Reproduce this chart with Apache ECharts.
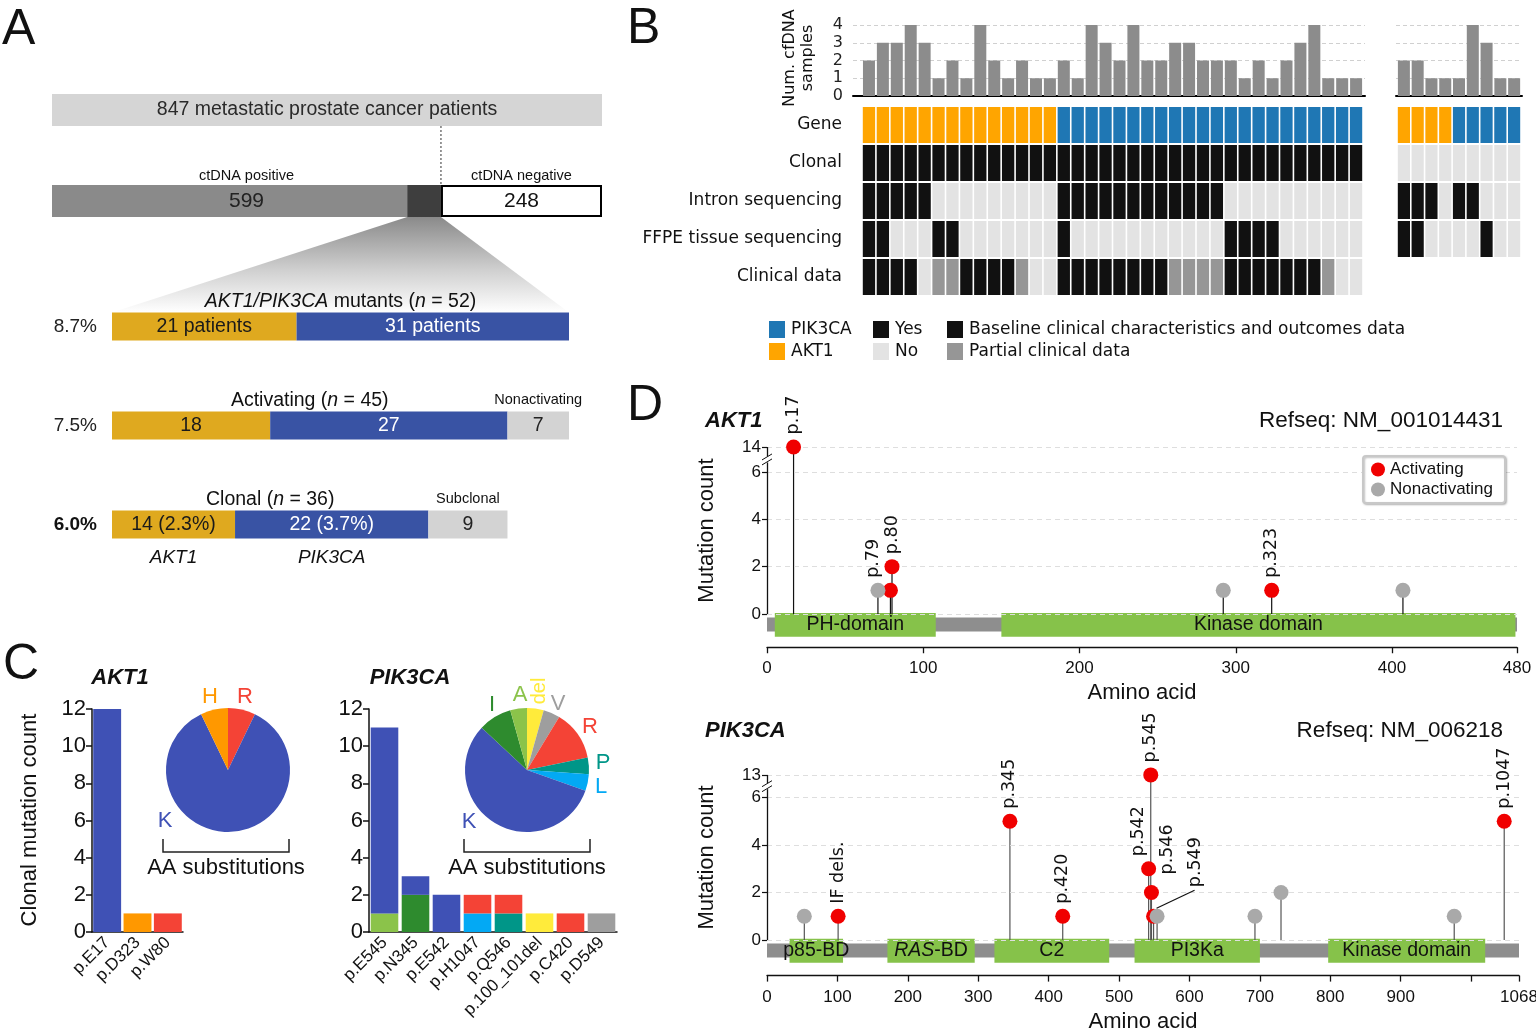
<!DOCTYPE html>
<html>
<head>
<meta charset="utf-8">
<title>AKT1 / PIK3CA figure</title>
<script src="https://cdn.jsdelivr.net/npm/echarts@6.0.0/dist/echarts.min.js"></script>
<style>
html,body{margin:0;padding:0;background:#fff;}
#chart{width:1536px;height:1028px;}
</style>
</head>
<body>
<div id="chart"></div>
<script>
// ===================== DATA =====================
// ---- Panel A ----
const aCohortLabel = ['847 metastatic prostate cancer patients'];
const aCohortTotal = [847];
const aCtdnaPositive = [599];
const aCtdnaNegative = [248];
const aMutantTotal = [52];
const aCtdnaTitles = ['ctDNA positive', 'ctDNA negative'];
const aRowLabels = ['8.7%', '7.5%', '6.0%'];
const aRowTitles = ['{i|AKT1/PIK3CA} mutants ({i|n} = 52)', 'Activating ({i|n} = 45)', 'Clonal ({i|n} = 36)'];
const aAkt1 = [21, 18, 14];
const aPik3ca = [31, 27, 22];
const aRest = [0, 7, 9];
const aRestTitles = ['', 'Nonactivating', 'Subclonal'];
const aAkt1Labels = ['21 patients', '18', '14 (2.3%)'];
const aPik3caLabels = ['31 patients', '27', '22 (3.7%)'];
const aRestLabels = ['', '7', '9'];
const aGeneNames = ['AKT1', 'PIK3CA'];

// ---- Panel B ----
const bRowNames = ['Gene', 'Clonal', 'Intron sequencing', 'FFPE tissue sequencing', 'Clinical data'];
const bMainSamples = [2,3,3,4,3,1,2,1,4,2,1,2,1,1, 2,1,4,3,2,4,2,2,3,3,2,2,2,1,2,1,2,3,4,1,1,1];
const bMainGene = [0,0,0,0,0,0,0,0,0,0,0,0,0,0, 1,1,1,1,1,1,1,1,1,1,1,1,1,1,1,1,1,1,1,1,1,1];
const bMainClonal = [1,1,1,1,1,1,1,1,1,1,1,1,1,1, 1,1,1,1,1,1,1,1,1,1,1,1,1,1,1,1,1,1,1,1,1,1];
const bMainIntron = [1,1,1,1,1,0,0,0,0,0,0,0,0,0, 1,1,1,1,1,1,1,1,1,1,1,1,0,0,0,0,0,0,0,0,0,0];
const bMainFfpe = [1,1,0,0,0,1,1,0,0,0,0,0,0,0, 1,0,0,0,0,0,0,0,0,0,0,0,1,1,1,1,0,0,0,0,0,0];
const bMainClinical = [2,2,2,2,0,1,1,2,2,2,2,1,0,0, 2,2,2,2,2,2,2,2,1,1,1,1,2,2,2,2,2,2,2,1,0,0];
const bSubSamples = [2,2,1,1,1,4,3,1,1];
const bSubGene = [0,0,0,0,1,1,1,1,1];
const bSubClonal = [0,0,0,0,0,0,0,0,0];
const bSubIntron = [1,1,1,0,1,1,0,0,0];
const bSubFfpe = [1,1,0,0,0,0,1,0,0];
const bYTitle = 'Num. cfDNA\nsamples';
const bLegendGene = ['PIK3CA', 'AKT1'];
const bLegendYesNo = ['Yes', 'No'];
const bLegendClinical = ['Baseline clinical characteristics and outcomes data', 'Partial clinical data'];

// ---- Panel C ----
const cAktCats = ['p.E17', 'p.D323', 'p.W80'];
const cAktK = [12, 0, 0];
const cAktH = [0, 1, 0];
const cAktR = [0, 0, 1];
const cAktPieNames = ['R', 'K', 'H'];
const cAktPieValues = [1, 12, 1];
const cPikCats = ['p.E545', 'p.N345', 'p.E542', 'p.H1047', 'p.Q546', 'p.100_101del', 'p.C420', 'p.D549'];
const cPikA = [1, 0, 0, 0, 0, 0, 0, 0];
const cPikI = [0, 2, 0, 0, 0, 0, 0, 0];
const cPikL = [0, 0, 0, 1, 0, 0, 0, 0];
const cPikP = [0, 0, 0, 0, 1, 0, 0, 0];
const cPikDel = [0, 0, 0, 0, 0, 1, 0, 0];
const cPikV = [0, 0, 0, 0, 0, 0, 0, 1];
const cPikK = [10, 1, 2, 0, 0, 0, 0, 0];
const cPikR = [0, 0, 0, 1, 1, 0, 1, 0];
const cPikPieNames = ['del', 'V', 'R', 'P', 'L', 'K', 'I', 'A'];
const cPikPieValues = [1, 1, 3, 1, 1, 13, 2, 1];
const cYTitle = 'Clonal mutation count';
const cPieCaption = 'AA substitutions';

// ---- Panel D ----
const dAktLength = 480;
const dAktPos = [17, 71, 79, 80, 292, 323, 407];
const dAktCount = [14, 1, 1, 2, 1, 1, 1];
const dAktClass = ['Activating', 'Nonactivating', 'Activating', 'Activating', 'Nonactivating', 'Activating', 'Nonactivating'];
const dAktLabels = ['p.17', '', 'p.79', 'p.80', '', 'p.323', ''];
const dAktDomainNames = ['PH-domain', 'Kinase domain'];
const dAktDomainStart = [5, 150];
const dAktDomainEnd = [108, 479];
const dAktXTicks = [0, 100, 200, 300, 400, 480];
const dAktYTicks = [0, 2, 4, 6, 14];
const dAktRefseq = 'Refseq: NM_001014431';

const dPikLength = 1068;
const dPikPos = [53, 101, 345, 420, 542, 545, 546, 549, 554, 693, 730, 976, 1047];
const dPikCount = [1, 1, 5, 1, 3, 13, 2, 1, 1, 1, 2, 1, 5];
const dPikClass = ['Nonactivating', 'Activating', 'Activating', 'Activating', 'Activating', 'Activating', 'Activating', 'Activating', 'Nonactivating', 'Nonactivating', 'Nonactivating', 'Nonactivating', 'Activating'];
const dPikLabels = ['', 'IF dels.', 'p.345', 'p.420', 'p.542', 'p.545', 'p.546', 'p.549', '', '', '', '', 'p.1047'];
const dPikDomainNames = ['p85-BD', '{i|RAS}-BD', 'C2', 'PI3Ka', 'Kinase domain'];
const dPikDomainStart = [32, 171, 323, 522, 797];
const dPikDomainEnd = [108, 295, 486, 700, 1020];
const dPikXTicks = [0, 100, 200, 300, 400, 500, 600, 700, 800, 900, 1000, 1068];
const dPikXLabels = [0, 100, 200, 300, 400, 500, 600, 700, 800, 900, 1068];
const dPikYTicks = [0, 2, 4, 6, 13];
const dPikRefseq = 'Refseq: NM_006218';

// ===================== STYLE =====================
const FA = '"Liberation Sans", Arial, Helvetica, sans-serif';
const FB = '"DejaVu Sans", Verdana, sans-serif';
const A_ORANGE = '#DFA91F', A_BLUE = '#3953A4', A_GRAY = '#D3D3D3';
const B_ORANGE = '#FFA500', B_BLUE = '#1F77B4', B_BLACK = '#111111', B_LIGHT = '#E3E3E3', B_MID = '#969696', B_BAR = '#8C8C8C';
const AA_COLORS = {K:'#3F51B5', H:'#FF9800', R:'#F44336', P:'#009688', L:'#03A9F4', I:'#2E8B2E', A:'#8BC34A', del:'#FFEB3B', V:'#9E9E9E'};
const D_RED = '#F00000', D_GRAY = '#A9A9A9', D_GREEN = '#86C24A', D_BACKBONE = '#8E8E8E';
// screen-space label shifts [dx, dy] for crowded lollipop labels (converted to the rotated label frame below)
const D_LABEL_SHIFT = {'p.79': [-17, 0], 'p.542': [-10, 0], 'p.546': [16.5, -5.5], 'p.549': [42, -16.5]};

const HID = {show:false};
function grid(left, top, width, height){ return {left, top, width, height, containLabel:false, outerBoundsMode:'none'}; }
function hiddenValueAxis(g, min, max){ return {gridIndex:g, type:'value', min, max, show:false}; }
function hiddenCatAxis(g, data, inverse){ return {gridIndex:g, type:'category', data, inverse:!!inverse, show:false}; }
function bBarXAxis(g, min, max){ return {gridIndex:g, type:'value', min, max, axisLine:{onZero:false, lineStyle:{color:'#000', width:2}}, axisTick:HID, axisLabel:HID, splitLine:HID}; }
function bBarYAxis(g, showLabels){ return {gridIndex:g, type:'value', min:0, max:4, interval:1, axisLine:HID, axisTick:HID,
  axisLabel:{show:showLabels, fontSize:16, fontFamily:FB, color:'#222', margin:10}, splitLine:{show:true, lineStyle:{type:[4,3], color:'#d0d0d0', width:1}}}; }
function cCatAxis(g, data){ return {gridIndex:g, type:'category', data,
  axisLine:{onZero:false, lineStyle:{color:'#111', width:1.5}}, axisTick:{alignWithLabel:true, length:6, lineStyle:{color:'#111', width:1.5}},
  axisLabel:{interval:0, rotate:45, fontSize:17, fontFamily:FA, color:'#111', margin:8}}; }
function cValAxis(g){ return {gridIndex:g, type:'value', min:0, max:12, interval:2,
  axisLine:{show:true, onZero:false, lineStyle:{color:'#111', width:1.5}}, axisTick:{show:true, length:6, lineStyle:{color:'#111', width:1.5}},
  axisLabel:{fontSize:22, fontFamily:FA, color:'#111', margin:6}, splitLine:HID}; }
function dXAxis(g, max, ticks, labels){ return {gridIndex:g, type:'value', min:0, max,
  axisLine:{show:true, onZero:false, lineStyle:{color:'#111', width:1.3}},
  axisTick:{show:true, customValues:ticks, length:6, lineStyle:{color:'#111', width:1.3}},
  axisLabel:{customValues:labels, formatter:v => String(v), fontSize:17, fontFamily:FA, color:'#111', margin:13},
  splitLine:HID, name:'Amino acid', nameLocation:'middle', nameGap:35, nameTextStyle:{fontSize:22, fontFamily:FA, color:'#111'}}; }
function dYAxis(g, min, max, brk, ticks){ return {gridIndex:g, type:'value', min, max, breaks:[brk], breakArea:{show:false},
  axisLine:{show:false, onZero:false}, axisTick:{show:true, customValues:ticks, length:5, lineStyle:{color:'#111', width:1.2}},
  axisLabel:{customValues:ticks, formatter:v => String(v), fontSize:17, fontFamily:FA, color:'#111', margin:6}, splitLine:HID}; }

// ===================== SERIES =====================
const series = [];
// ---- Panel A top (cohort / ctDNA) ----
series.push({type:'bar', name:'cohort', xAxisIndex:0, yAxisIndex:0, stack:'top', barWidth:32, silent:true,
  data:[aCohortTotal[0], '-'], itemStyle:{color:'#D5D5D5'},
  label:{show:true, position:'inside', formatter:()=>aCohortLabel[0], fontSize:19.5, fontFamily:FA, color:'#2a2a2a'}});
series.push({type:'bar', name:'ctpos', xAxisIndex:0, yAxisIndex:0, stack:'top', barWidth:32, silent:true,
  data:['-', aCtdnaPositive[0] - aMutantTotal[0]], itemStyle:{color:'#8A8A8A'}});
series.push({type:'bar', name:'ctmut', xAxisIndex:0, yAxisIndex:0, stack:'top', barWidth:32, silent:true,
  data:['-', aMutantTotal[0]], itemStyle:{color:'#3E3E3E'}});
series.push({type:'bar', name:'ctneg', xAxisIndex:0, yAxisIndex:0, stack:'top', barWidth:32, silent:true,
  data:['-', aCtdnaNegative[0]], itemStyle:{color:'#ffffff', borderColor:'#000', borderWidth:2}});
// ---- Panel A mutant bars ----
[[aAkt1, aAkt1Labels, A_ORANGE, '#1a1a1a'], [aPik3ca, aPik3caLabels, A_BLUE, '#ffffff'], [aRest, aRestLabels, A_GRAY, '#222']].forEach(([vals, labs, col, tcol], k) => {
  series.push({type:'bar', name:'amut' + k, xAxisIndex:1, yAxisIndex:1, stack:'mut', barWidth:28, silent:true,
    data:vals, itemStyle:{color:col},
    label:{show:true, position:'inside', formatter:p => labs[p.dataIndex], fontSize:19.5, fontFamily:FA, color:tcol}});
});
// ---- Panel B bars ----
series.push({type:'bar', name:'bmainbars', xAxisIndex:2, yAxisIndex:2, barWidth:12, silent:true,
  data:bMainSamples.map((v, i) => [i, v]), itemStyle:{color:B_BAR}});
series.push({type:'bar', name:'bsubbars', xAxisIndex:3, yAxisIndex:3, barWidth:12, silent:true,
  data:bSubSamples.map((v, i) => [i, v]), itemStyle:{color:B_BAR}});
// ---- Panel B tracks ----
function heatData(rows){ const out = []; rows.forEach((row, r) => { if (!row) return; row.forEach((v, c) => out.push([c, r, v])); }); return out; }
function cellColor(r, v){
  if (r === 0) return v === 1 ? B_BLUE : B_ORANGE;
  if (r === 4) return v === 2 ? B_BLACK : (v === 1 ? B_MID : B_LIGHT);
  return v === 1 ? B_BLACK : B_LIGHT;
}
const heatRender = (params, api) => {
  const c = api.coord([api.value(0), api.value(1)]);
  const s = api.size([1, 1]);
  return {type:'rect', shape:{x:c[0] - s[0] / 2 + 0.8, y:c[1] - s[1] / 2 + 1, width:s[0] - 1.6, height:s[1] - 2},
    style:{fill:cellColor(api.value(1), api.value(2))}};
};
series.push({type:'custom', name:'bmainheat', xAxisIndex:4, yAxisIndex:4, silent:true, encode:{x:0, y:1},
  data:heatData([bMainGene, bMainClonal, bMainIntron, bMainFfpe, bMainClinical]), renderItem:heatRender});
series.push({type:'custom', name:'bsubheat', xAxisIndex:5, yAxisIndex:5, silent:true, encode:{x:0, y:1},
  data:heatData([bSubGene, bSubClonal, bSubIntron, bSubFfpe, null]), renderItem:heatRender});
// ---- Panel C bars ----
[['K', cAktK], ['H', cAktH], ['R', cAktR]].forEach(([aa, vals]) => {
  series.push({type:'bar', name:'cakt' + aa, xAxisIndex:6, yAxisIndex:6, stack:'akt', barCategoryGap:'8%', silent:true,
    data:vals, itemStyle:{color:AA_COLORS[aa]}});
});
[['A', cPikA], ['I', cPikI], ['L', cPikL], ['P', cPikP], ['del', cPikDel], ['V', cPikV], ['K', cPikK], ['R', cPikR]].forEach(([aa, vals]) => {
  series.push({type:'bar', name:'cpik' + aa, xAxisIndex:7, yAxisIndex:7, stack:'pik', barCategoryGap:'11%', silent:true,
    data:vals, itemStyle:{color:AA_COLORS[aa]}});
});
// ---- Panel C pies ----
function pie(center, names, vals){
  return {type:'pie', center, radius:62, startAngle:90, clockwise:true, silent:true, label:{show:false}, labelLine:{show:false},
    itemStyle:{borderWidth:0}, data:names.map((n, i) => ({name:n, value:vals[i], itemStyle:{color:AA_COLORS[n], borderWidth:0}}))};
}
series.push(pie([228, 770], cAktPieNames, cAktPieValues));
series.push(pie([527, 770], cPikPieNames, cPikPieValues));
// ---- Panel D ----
function dSeries(g, length, pos, cnt, cls, labels, dNames, dStart, dEnd, yTicks, stemColor){
  const top = yTicks[yTicks.length - 1];
  series.push({type:'line', name:'dgrid' + g, xAxisIndex:g, yAxisIndex:g, data:[], silent:true, z:1,
    markLine:{silent:true, symbol:['none', 'none'], animation:false, label:{show:false},
      lineStyle:{type:[5, 4], color:'#dedede', width:1},
      data:yTicks.map(t => ({yAxis:t})).concat([[{coord:[0, 0], lineStyle:{type:'solid', color:'#111', width:1.3}}, {coord:[0, top]}]])}});
  series.push({type:'custom', name:'dbb' + g, xAxisIndex:g, yAxisIndex:g, silent:true, z:2, data:[[0, length]],
    renderItem:(p, api) => { const a = api.coord([api.value(0), -0.15]); const b = api.coord([api.value(1), -0.74]);
      return {type:'rect', shape:{x:a[0], y:a[1], width:b[0] - a[0], height:b[1] - a[1]}, style:{fill:D_BACKBONE}}; }});
  series.push({type:'custom', name:'ddom' + g, xAxisIndex:g, yAxisIndex:g, silent:true, z:3,
    data:dNames.map((n, i) => [dStart[i], dEnd[i], i]),
    renderItem:(p, api) => { const a = api.coord([api.value(0), 0.05]); const b = api.coord([api.value(1), -0.96]);
      return {type:'group', children:[
        {type:'rect', shape:{x:a[0], y:a[1], width:b[0] - a[0], height:b[1] - a[1]}, style:{fill:D_GREEN}},
        {type:'text', style:{text:dNames[api.value(2)], x:(a[0] + b[0]) / 2, y:(a[1] + b[1]) / 2, align:'center', verticalAlign:'middle',
          fontSize:19.5, fontFamily:FA, fill:'#111', rich:{i:{fontStyle:'italic', fontSize:19.5, fontFamily:FA, fill:'#111'}}}}]}; }});
  series.push({type:'custom', name:'dstem' + g, xAxisIndex:g, yAxisIndex:g, silent:true, z:4,
    data:pos.map((p, i) => [p, cnt[i]]),
    renderItem:(p, api) => { const a = api.coord([api.value(0), 0]); const b = api.coord([api.value(0), api.value(1)]);
      return {type:'line', shape:{x1:a[0], y1:a[1], x2:b[0], y2:b[1]}, style:{stroke:stemColor, lineWidth:1.2}}; }});
  [['Activating', D_RED, 5], ['Nonactivating', D_GRAY, 6]].forEach(([nm, col, z]) => {
    const data = [];
    pos.forEach((p, i) => { if (cls[i] !== nm) return; const it = {value:[p, cnt[i]], name:labels[i]};
      const s = D_LABEL_SHIFT[labels[i]];
      if (s) it.label = {offset:[-s[1], s[0]]};   // label is rotated 90deg: local x = screen up, local y = screen right
      data.push(it); });
    series.push({type:'scatter', name:nm, xAxisIndex:g, yAxisIndex:g, z, symbol:'circle', symbolSize:15, silent:true,
      itemStyle:{color:col, opacity:1}, data,
      label:{show:true, position:'top', distance:5, rotate:90, align:'left', verticalAlign:'middle',
        formatter:p => p.name, fontSize:17.5, fontFamily:FB, color:'#111'}});
  });
}
dSeries(8, dAktLength, dAktPos, dAktCount, dAktClass, dAktLabels, dAktDomainNames, dAktDomainStart, dAktDomainEnd, dAktYTicks, '#111');
dSeries(9, dPikLength, dPikPos, dPikCount, dPikClass, dPikLabels, dPikDomainNames, dPikDomainStart, dPikDomainEnd, dPikYTicks, '#555');

// ===================== OPTION =====================
const option = {
  animation:false,
  backgroundColor:'#ffffff',
  textStyle:{fontFamily:FA},
  grid:[
    grid(52, 64.5, 550, 182),      // 0 A cohort
    grid(112, 277, 457, 297),      // 1 A mutants
    grid(853, 25, 512, 71),        // 2 B bars main
    grid(1396, 25, 126, 71),       // 3 B bars sub
    grid(862, 106, 501, 190),      // 4 B tracks main
    grid(1397, 106, 124, 190),     // 5 B tracks sub
    grid(92, 709, 91, 223),        // 6 C AKT1
    grid(369, 709, 248, 223),      // 7 C PIK3CA
    grid(767, 437.5, 750, 209.75), // 8 D AKT1
    grid(767, 765.4, 752, 210.2)   // 9 D PIK3CA
  ],
  xAxis:[
    hiddenValueAxis(0, 0, aCohortTotal[0]),
    hiddenValueAxis(1, 0, aMutantTotal[0]),
    bBarXAxis(2, -1.147, 35.64),
    bBarXAxis(3, -0.573, 8.57),
    hiddenCatAxis(4, bMainSamples.map((_, i) => i)),
    hiddenCatAxis(5, bSubSamples.map((_, i) => i)),
    cCatAxis(6, cAktCats),
    cCatAxis(7, cPikCats),
    dXAxis(8, dAktLength, dAktXTicks, dAktXTicks),
    dXAxis(9, dPikLength, dPikXTicks, dPikXLabels)
  ],
  yAxis:[
    hiddenCatAxis(0, [0, 1], true),
    {gridIndex:1, type:'category', data:aRowLabels, inverse:true, axisLine:HID, axisTick:HID,
      axisLabel:{fontSize:19, fontFamily:FA, color:'#222', margin:15,
        formatter:(v, i) => i === aRowLabels.length - 1 ? '{b|' + v + '}' : v,
        rich:{b:{fontWeight:'bold', fontSize:19, fontFamily:FA, color:'#111'}}}},
    bBarYAxis(2, true),
    bBarYAxis(3, false),
    {gridIndex:4, type:'category', data:bRowNames, inverse:true, axisLine:HID, axisTick:HID,
      axisLabel:{fontSize:17, fontFamily:FB, color:'#111', margin:20}},
    {gridIndex:5, type:'category', data:bRowNames, inverse:true, show:false},
    cValAxis(6),
    cValAxis(7),
    dYAxis(8, -1.4, 14.4, {start:6.4, end:13.6, gap:0.25}, dAktYTicks),
    dYAxis(9, -1.5, 13.4, {start:6.4, end:12.6, gap:0.15}, dPikYTicks)
  ],
  legend:{data:[{name:'Activating', icon:'circle', itemStyle:{color:D_RED, borderWidth:0}},
                {name:'Nonactivating', icon:'circle', itemStyle:{color:D_GRAY, borderWidth:0}}],
    selectedMode:false, left:1363, top:456, orient:'vertical', z:20,
    itemGap:3, itemWidth:14, itemHeight:14, backgroundColor:'#fff',
    itemStyle:{borderWidth:0}, lineStyle:{width:0},
    borderColor:'#c8c8c8', borderWidth:2, borderRadius:3, padding:[5, 12, 5, 8],
    shadowBlur:2, shadowColor:'rgba(0,0,0,0.25)', shadowOffsetX:1, shadowOffsetY:1,
    textStyle:{fontSize:17, fontFamily:FA, color:'#111'}},
  series
};

const chart = echarts.init(document.getElementById('chart'));
chart.setOption(option);

// ===================== ANNOTATIONS =====================
const px = (g, v) => chart.convertToPixel({gridIndex:g}, v);
function txt(text, x, y, o){
  o = o || {};
  return {type:'text', x, y, rotation:o.rotation || 0, silent:true, z:100,
    style:{text, fontSize:o.fontSize || 18, fontFamily:o.fontFamily || FA, fontWeight:o.fontWeight || 'normal',
      fontStyle:o.fontStyle || 'normal', fill:o.fill || '#111', align:o.align || 'center', verticalAlign:o.verticalAlign || 'middle',
      textAlign:o.align || 'center', textVerticalAlign:o.verticalAlign || 'middle', lineHeight:o.lineHeight, rich:o.rich}};
}
const G = [];
// panel letters
[['A', 2, 30], ['B', 627, 29], ['C', 3, 665], ['D', 627, 406]].forEach(([t, x, y]) => G.push(txt(t, x, y, {fontSize:50, align:'left'})));

// ---- Panel A annotations ----
const barHalf = 16;
const yTopRow = px(0, [0, 0])[1], yCtRow = px(0, [0, 1])[1];
const xMutStart = px(0, [aCtdnaPositive[0] - aMutantTotal[0], 1])[0];
const xPosEnd = px(0, [aCtdnaPositive[0], 1])[0];
const mutRow0 = px(1, [0, 0]);
const xMut0 = px(1, [0, 0])[0], xMut52 = px(1, [aMutantTotal[0], 0])[0];
G.push({type:'polygon', z:0, silent:true,
  shape:{points:[[xMutStart, yCtRow + barHalf], [xPosEnd, yCtRow + barHalf], [xMut52, mutRow0[1] - 14], [xMut0, mutRow0[1] - 14]]},
  style:{fill:new echarts.graphic.LinearGradient(0, 0, 0, 1, [{offset:0, color:'#8a8a8a'}, {offset:0.55, color:'#cfcfcf'}, {offset:1, color:'#ffffff'}])}});
G.push({type:'line', z:1, silent:true, shape:{x1:xPosEnd, y1:yTopRow + barHalf, x2:xPosEnd, y2:yCtRow - barHalf},
  style:{stroke:'#333', lineWidth:1, lineDash:[2, 2]}});
const xPosMid = px(0, [aCtdnaPositive[0] / 2, 1])[0];
const xNegMid = px(0, [aCtdnaPositive[0] + aCtdnaNegative[0] / 2, 1])[0];
G.push(txt(aCtdnaTitles[0], xPosMid, yCtRow - 25, {fontSize:14.5}));
G.push(txt(aCtdnaTitles[1], xNegMid, yCtRow - 25, {fontSize:14.5}));
G.push(txt(String(aCtdnaPositive[0]), xPosMid, yCtRow, {fontSize:21, fill:'#222'}));
G.push(txt(String(aCtdnaNegative[0]), xNegMid, yCtRow, {fontSize:21, fill:'#111'}));
const italicRich = {i:{fontStyle:'italic', fontSize:19.5, fontFamily:FA, fill:'#111'}};
aRowTitles.forEach((t, r) => {
  const tot = aAkt1[r] + aPik3ca[r];
  const p = px(1, [tot / 2, r]);
  G.push(txt(t, p[0], p[1] - 25, {fontSize:19.5, rich:italicRich}));
  if (aRestTitles[r]) {
    const q = px(1, [tot + aRest[r] / 2, r]);
    G.push(txt(aRestTitles[r], q[0], q[1] - 26, {fontSize:14.5}));
  }
});
const lastRow = aRowLabels.length - 1;
const gA = px(1, [aAkt1[lastRow] / 2, lastRow]);
const gP = px(1, [aAkt1[lastRow] + aPik3ca[lastRow] / 2, lastRow]);
G.push(txt(aGeneNames[0], gA[0], gA[1] + 33, {fontSize:19, fontStyle:'italic'}));
G.push(txt(aGeneNames[1], gP[0], gP[1] + 33, {fontSize:19, fontStyle:'italic'}));

// ---- Panel B annotations ----
G.push(txt(bYTitle, 799, 58, {fontSize:16, fontFamily:FB, rotation:Math.PI / 2, lineHeight:18}));
const legCols = [[769, bLegendGene, [B_BLUE, B_ORANGE]], [873, bLegendYesNo, [B_BLACK, B_LIGHT]], [947, bLegendClinical, [B_BLACK, B_MID]]];
legCols.forEach(([x, labels, cols]) => {
  labels.forEach((l, k) => {
    const y = 321 + k * 22;
    G.push({type:'rect', silent:true, z:100, shape:{x, y, width:16, height:17}, style:{fill:cols[k]}});
    G.push(txt(l, x + 22, y + 9, {fontSize:17, fontFamily:FB, align:'left'}));
  });
});

// ---- Panel C annotations ----
G.push(txt('AKT1', 120, 678, {fontSize:22, fontWeight:'bold', fontStyle:'italic'}));
G.push(txt('PIK3CA', 410, 678, {fontSize:22, fontWeight:'bold', fontStyle:'italic'}));
G.push(txt(cYTitle, 30, 820, {fontSize:22, rotation:Math.PI / 2}));
[[163, 289, 226], [464, 590, 527]].forEach(([x1, x2, xm]) => {
  G.push({type:'polyline', silent:true, z:100, shape:{points:[[x1, 839], [x1, 852], [x2, 852], [x2, 839]]}, style:{stroke:'#222', lineWidth:1.5, fill:null}});
  G.push(txt(cPieCaption, xm, 868, {fontSize:22}));
});
[['H', 210, 697], ['R', 245, 697], ['K', 165, 821]].forEach(([t, x, y]) => G.push(txt(t, x, y, {fontSize:22, fill:AA_COLORS[t]})));
[['I', 492, 705], ['A', 520, 695], ['V', 558, 704], ['R', 590, 727], ['P', 603, 763], ['L', 601, 787], ['K', 469, 822]].forEach(([t, x, y]) =>
  G.push(txt(t, x, y, {fontSize:22, fill:AA_COLORS[t]})));
G.push(txt('del', 539, 691, {fontSize:20, fill:AA_COLORS.del, rotation:Math.PI / 2}));

// ---- Panel D annotations ----
[[8, 'AKT1', dAktRefseq, 421, dAktYTicks], [9, 'PIK3CA', dPikRefseq, 731, dPikYTicks]].forEach(([g, gene, ref, y, ticks]) => {
  G.push(txt(gene, 705, y, {fontSize:22, fontWeight:'bold', fontStyle:'italic', align:'left'}));
  G.push(txt(ref, 1503, y, {fontSize:22.5, align:'right'}));
  const p0 = px(g, [0, 0]), pTop = px(g, [0, ticks[ticks.length - 1]]), p6 = px(g, [0, ticks[ticks.length - 2]]);
  G.push(txt('Mutation count', 707, (p0[1] + pTop[1]) / 2, {fontSize:22, rotation:Math.PI / 2}));
  const ym = (p6[1] + pTop[1]) / 2;
  G.push({type:'rect', silent:true, z:100, shape:{x:p0[0] - 6, y:ym - 3, width:12, height:6}, style:{fill:'#fff'}});
  [-2.5, 2.5].forEach(d => G.push({type:'line', silent:true, z:101, shape:{x1:p0[0] - 5, y1:ym + d + 3, x2:p0[0] + 5, y2:ym + d - 3}, style:{stroke:'#111', lineWidth:1}}));
});
const i549 = dPikLabels.indexOf('p.549');
const p549 = px(9, [dPikPos[i549], dPikCount[i549]]);
G.push({type:'line', silent:true, z:100, shape:{x1:p549[0] + 3, y1:p549[1] - 8, x2:p549[0] + 41, y2:p549[1] - 26}, style:{stroke:'#111', lineWidth:1.2}});

chart.setOption({graphic:{elements:G}});
</script>
</body>
</html>
